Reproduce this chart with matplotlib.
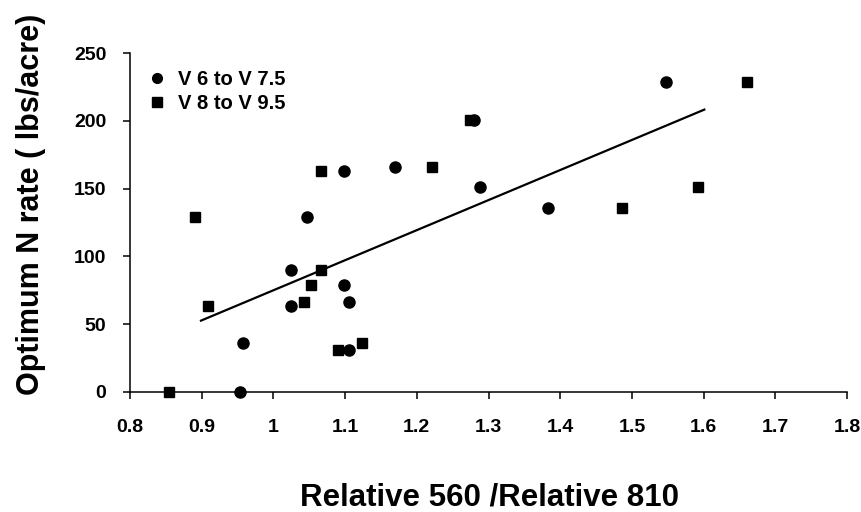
import matplotlib
matplotlib.use("Agg")
import matplotlib.pyplot as plt
from matplotlib.lines import Line2D

# Data
v6_x = [0.953, 0.958, 1.025, 1.024, 1.098, 1.106, 1.105, 1.047, 1.098, 1.170, 1.280, 1.288, 1.383, 1.548]
v6_y = [0, 36, 63, 90, 79, 66, 31, 129, 163, 166, 201, 151, 136, 229]

v8_x = [0.854, 0.891, 0.909, 1.043, 1.053, 1.067, 1.066, 1.090, 1.123, 1.221, 1.274, 1.486, 1.592, 1.660]
v8_y = [0, 129, 63, 66, 79, 90, 163, 31, 36, 166, 201, 136, 151, 229]

fit_x = [0.899, 1.601]
fit_y = [52.5, 208.4]

x_ticks = [0.8, 0.9, 1.0, 1.1, 1.2, 1.3, 1.4, 1.5, 1.6, 1.7, 1.8]
x_tick_labels = ["0.8", "0.9", "1", "1.1", "1.2", "1.3", "1.4", "1.5", "1.6", "1.7", "1.8"]
y_ticks = [0, 50, 100, 150, 200, 250]

series_labels = ["V 6 to V 7.5", "V 8 to V 9.5"]
x_label = "Relative 560 /Relative 810"
y_label = "Optimum N rate ( lbs/acre)"

FONT = "Liberation Sans"

W, H = 861, 512
fig = plt.figure(figsize=(W / 100, H / 100), dpi=100)
ax = fig.add_axes([130 / W, 1 - 391.7 / H, 717 / W, (391.7 - 53.3) / H])

ax.plot(v6_x, v6_y, linestyle="none", marker="o", markersize=8, color="black", clip_on=False)
ax.plot(v8_x, v8_y, linestyle="none", marker="s", markersize=7.5, color="black", clip_on=False)
ax.plot(fit_x, fit_y, color="black", linewidth=1.6)

ax.set_xlim(0.8, 1.8)
ax.set_ylim(0, 250)
ax.set_xticks(x_ticks)
ax.set_xticklabels(x_tick_labels)
ax.set_yticks(y_ticks)

for s in ["top", "right"]:
    ax.spines[s].set_visible(False)
for s in ["left", "bottom"]:
    ax.spines[s].set_linewidth(1.1)

ax.tick_params(axis="both", direction="out", length=5, width=1.1, colors="black")
ax.tick_params(axis="x", pad=15)
ax.tick_params(axis="y", pad=12)
for lab in ax.get_xticklabels() + ax.get_yticklabels():
    lab.set_fontfamily(FONT)
    lab.set_fontweight("bold")
    lab.set_fontsize(14)

handles = [
    Line2D([], [], linestyle="none", marker="o", markersize=7, color="black"),
    Line2D([], [], linestyle="none", marker="s", markersize=6.5, color="black"),
]
leg = ax.legend(handles, series_labels, loc="upper left", bbox_to_anchor=(0.005, 0.975),
                frameon=False, handletextpad=0.3, labelspacing=0.25, borderaxespad=0,
                handlelength=1.5, prop={"family": FONT, "weight": "bold", "size": 14.5})

fig.text(489 / W, 1 - 505 / H, x_label, ha="center", va="baseline",
         fontfamily=FONT, fontweight="bold", fontsize=22.5)
fig.text(31 / W, 1 - 204 / H, y_label, ha="center", va="center", rotation=90,
         fontfamily=FONT, fontweight="bold", fontsize=22)

fig.savefig("out.png", dpi=100, facecolor="white")
